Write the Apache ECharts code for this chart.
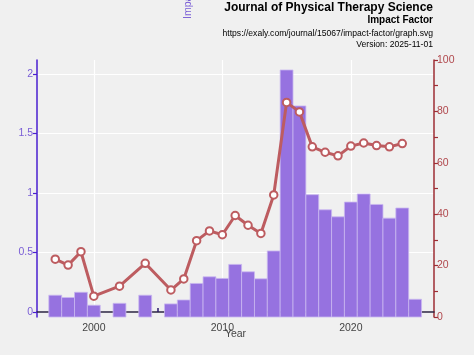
<!DOCTYPE html>
<html><head><meta charset="utf-8">
<script src="https://cdn.jsdelivr.net/npm/echarts@6/dist/echarts.min.js"></script>
<style>html,body{margin:0;padding:0;background:#f0f0f0}#c{width:474px;height:355px}</style>
</head><body><div id="c"></div>
<script>
const barYears = [1997,1998,1999,2000,2002,2004,2006,2007,2008,2009,2010,2011,2012,2013,2014,2015,2016,2017,2018,2019,2020,2021,2022,2023,2024,2025];
const impactFactor = [0.141,0.122,0.166,0.057,0.073,0.141,0.068,0.101,0.240,0.296,0.282,0.400,0.338,0.279,0.513,2.034,1.732,0.986,0.859,0.800,0.924,0.992,0.904,0.789,0.874,0.107];
const lineYears = [1997,1998,1999,2000,2002,2004,2006,2007,2008,2009,2010,2011,2012,2013,2014,2015,2016,2017,2018,2019,2020,2021,2022,2023,2024];
const percentile = [22.5,20.2,25.4,8.1,12.0,20.9,10.5,14.8,29.7,33.5,32.0,39.5,35.7,32.5,47.5,83.5,79.8,66.2,64.1,62.7,66.5,67.7,66.7,66.2,67.5];
const leftTicks = [0,0.5,1,1.5,2];
const xTicks = [2000,2005,2010,2015,2020,2025];
const xLabels = [2000,2010,2020];

const chart = echarts.init(document.getElementById('c'), null, {renderer:'canvas'});
const font = 'Liberation Sans, Arial, sans-serif';
chart.setOption({
  backgroundColor:'#f0f0f0',
  animation:false,
  grid:{left:37,right:40,top:60,bottom:38,containLabel:false},
  xAxis:[{
    type:'value', min:1995.58, max:2026.47,
    axisLine:{show:true,lineStyle:{color:'#2a2340',width:1.5}},
    axisTick:{show:true,inside:true,length:4,customValues:xTicks,lineStyle:{color:'#2a1a6a',width:1.5}},
    axisLabel:{customValues:xLabels,color:'#444',fontSize:10.5,fontFamily:font,margin:6,formatter:v=>String(v)},
    splitLine:{show:false},
    name:'Year',nameLocation:'middle',nameGap:12,nameMoveOverlap:false,
    nameTextStyle:{color:'#444',fontSize:10.5,fontFamily:font}
  },{
    type:'value', min:1995.58, max:2026.47, show:true,
    axisLine:{show:false},axisLabel:{show:false},
    axisTick:{show:false,customValues:xLabels},
    splitLine:{show:true,lineStyle:{color:'#ffffff',width:1.2}}
  }],
  yAxis:[{
    type:'value', min:-0.042, max:2.118, position:'left',
    axisLine:{show:true,lineStyle:{color:'#4a1fd0',width:1.5}},
    axisTick:{show:true,length:4,customValues:leftTicks,lineStyle:{color:'#4a1fd0',width:1.2}},
    axisLabel:{customValues:leftTicks,color:'#7a5ed6',fontSize:10.5,fontFamily:font,margin:4},
    splitLine:{show:true,lineStyle:{color:'#ffffff',width:1.2}}
  },{
    type:'value', min:0, max:100, interval:10, position:'right',
    axisLine:{show:true,lineStyle:{color:'#9e2e34',width:1.5}},
    axisTick:{show:true,length:4,lineStyle:{color:'#9e2e34',width:1.2}},
    axisLabel:{color:'#b0474c',fontSize:10.5,fontFamily:font,margin:3,formatter:v=>(v%20===0?String(v):'')},
    splitLine:{show:false}
  }],
  series:[{
    type:'custom', xAxisIndex:0, yAxisIndex:0,
    data: barYears.map((y,i)=>[y,impactFactor[i]]),
    renderItem:(params,api)=>{
      const top = api.coord([api.value(0), api.value(1)]);
      const w = api.size([1,0])[0];
      const bottom = params.coordSys.y + params.coordSys.height;
      return {type:'rect',shape:{x:top[0]-w/2,y:top[1],width:w,height:bottom-top[1]},
        style:{fill:'#9672e0',stroke:'#c9b8f0',lineWidth:0.8}};
    },
    z:2
  },{
    type:'line', xAxisIndex:0, yAxisIndex:1,
    data: lineYears.map((y,i)=>[y,percentile[i]]),
    symbol:'circle', symbolSize:7.5,
    lineStyle:{color:'#bd5c60',width:3},
    itemStyle:{color:'#ffffff',borderColor:'#bd5c60',borderWidth:2},
    z:3
  }],
  graphic:[
    {type:'text',right:41,top:2,style:{text:'Journal of Physical Therapy Science',font:'bold 12px '+font,fill:'#000'}},
    {type:'text',right:41,top:15,style:{text:'Impact Factor',font:'bold 10px '+font,fill:'#000'}},
    {type:'text',right:41,top:29,style:{text:'https://exaly.com/journal/15067/impact-factor/graph.svg',font:'8.6px '+font,fill:'#000'}},
    {type:'text',right:41,top:40,style:{text:'Version: 2025-11-01',font:'8.6px '+font,fill:'#000'}},
    {type:'text',x:183,y:19,rotation:Math.PI/2,style:{text:'Impact Factor',font:'10.5px '+font,fill:'#7a5ed6',textAlign:'left',textVerticalAlign:'top'}}
  ]
});
</script></body></html>
